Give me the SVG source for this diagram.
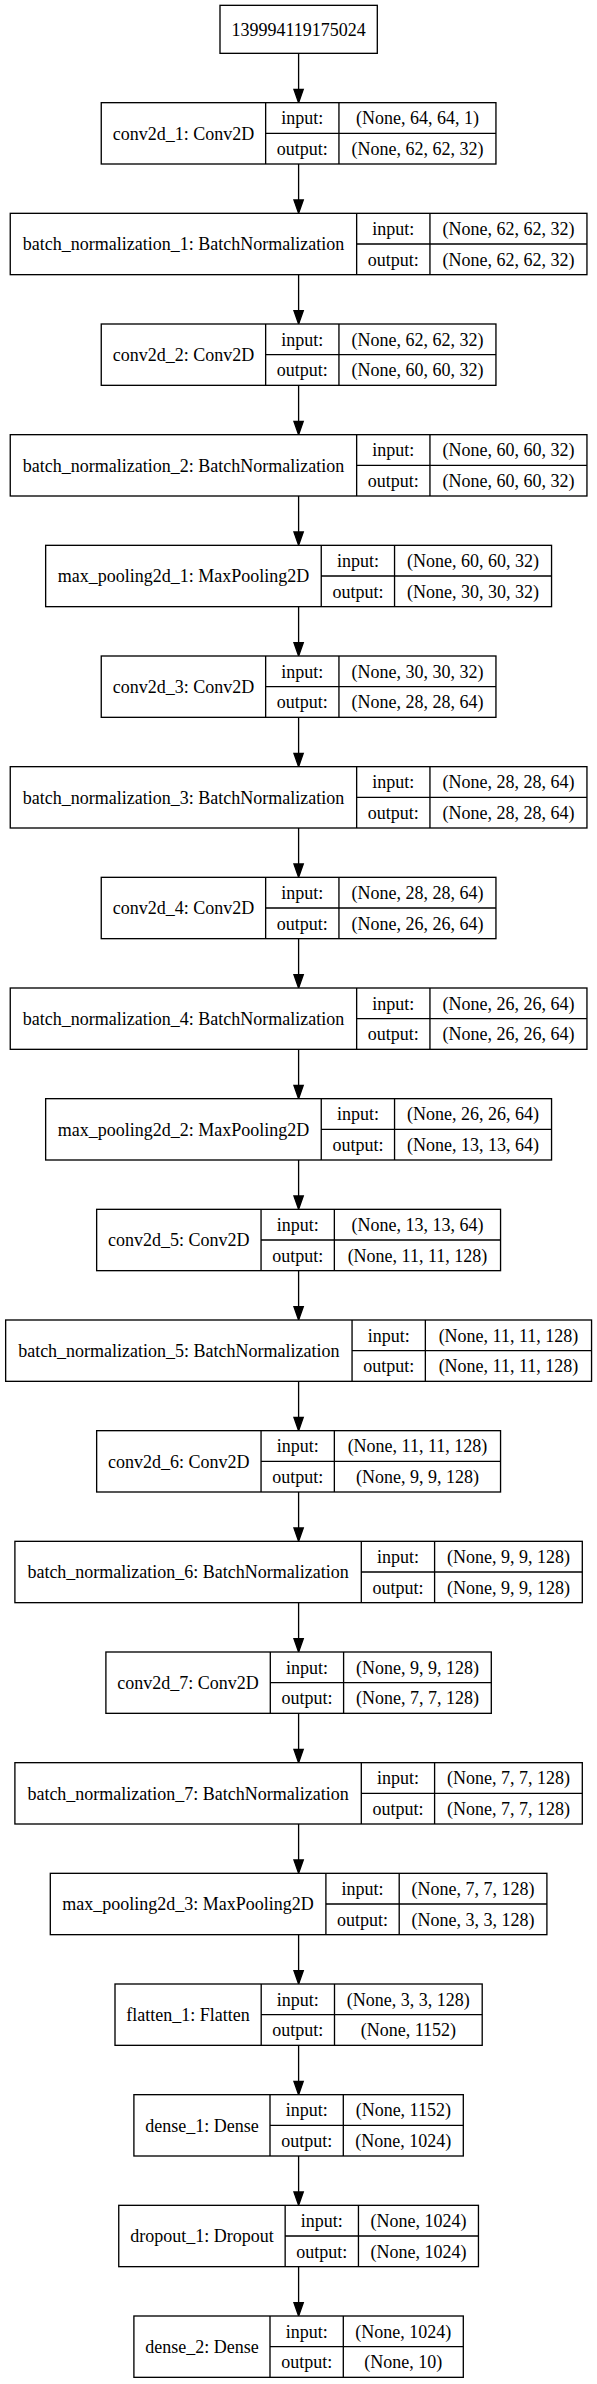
<svg xmlns="http://www.w3.org/2000/svg" width="597" height="2384" viewBox="0 0 597 2384">
<style>
.bg{fill:#ffffff}
.box{fill:#ffffff;stroke:#000000;stroke-width:1.33}
.sep{stroke:#000000;stroke-width:1.33;fill:none}
.edge{stroke:#000000;stroke-width:1.33;fill:none}
text{font-family:"Liberation Serif","Times New Roman",serif;font-size:18px;fill:#000000;text-anchor:middle}
</style>
<defs>
<marker id="arr" markerUnits="userSpaceOnUse" viewBox="0 0 13.33 9.33" refX="0" refY="4.67" markerWidth="13.33" markerHeight="9.33" orient="auto" style="overflow:visible">
<path d="M0,0 L13.33,4.67 L0,9.33 Z" fill="#000000" stroke="#000000" stroke-width="1.33"/>
</marker>
</defs>
<rect class="bg" x="0" y="0" width="597" height="2384"/>

<g id="connectors">
<line class="edge" x1="298.6" y1="53.33" x2="298.6" y2="89.33" marker-end="url(#arr)"/>
<line class="edge" x1="298.6" y1="164.00" x2="298.6" y2="200.00" marker-end="url(#arr)"/>
<line class="edge" x1="298.6" y1="274.67" x2="298.6" y2="310.67" marker-end="url(#arr)"/>
<line class="edge" x1="298.6" y1="385.33" x2="298.6" y2="421.33" marker-end="url(#arr)"/>
<line class="edge" x1="298.6" y1="496.00" x2="298.6" y2="532.00" marker-end="url(#arr)"/>
<line class="edge" x1="298.6" y1="606.67" x2="298.6" y2="642.67" marker-end="url(#arr)"/>
<line class="edge" x1="298.6" y1="717.33" x2="298.6" y2="753.33" marker-end="url(#arr)"/>
<line class="edge" x1="298.6" y1="828.00" x2="298.6" y2="864.00" marker-end="url(#arr)"/>
<line class="edge" x1="298.6" y1="938.67" x2="298.6" y2="974.67" marker-end="url(#arr)"/>
<line class="edge" x1="298.6" y1="1049.33" x2="298.6" y2="1085.33" marker-end="url(#arr)"/>
<line class="edge" x1="298.6" y1="1160.00" x2="298.6" y2="1196.00" marker-end="url(#arr)"/>
<line class="edge" x1="298.6" y1="1270.67" x2="298.6" y2="1306.67" marker-end="url(#arr)"/>
<line class="edge" x1="298.6" y1="1381.33" x2="298.6" y2="1417.33" marker-end="url(#arr)"/>
<line class="edge" x1="298.6" y1="1492.00" x2="298.6" y2="1528.00" marker-end="url(#arr)"/>
<line class="edge" x1="298.6" y1="1602.67" x2="298.6" y2="1638.67" marker-end="url(#arr)"/>
<line class="edge" x1="298.6" y1="1713.33" x2="298.6" y2="1749.33" marker-end="url(#arr)"/>
<line class="edge" x1="298.6" y1="1824.00" x2="298.6" y2="1860.00" marker-end="url(#arr)"/>
<line class="edge" x1="298.6" y1="1934.67" x2="298.6" y2="1970.67" marker-end="url(#arr)"/>
<line class="edge" x1="298.6" y1="2045.33" x2="298.6" y2="2081.33" marker-end="url(#arr)"/>
<line class="edge" x1="298.6" y1="2156.00" x2="298.6" y2="2192.00" marker-end="url(#arr)"/>
<line class="edge" x1="298.6" y1="2266.67" x2="298.6" y2="2302.67" marker-end="url(#arr)"/>
</g>

<g id="input_139994119175024">
<rect class="box" x="220" y="5.33" width="157.3" height="48"/>
<text x="298.65" y="35.6">139994119175024</text>
</g>

<g id="conv2d_1" transform="translate(0,102.67)">
<rect class="box" x="101.25" y="0" width="394.7" height="61.33"/>
<path class="sep" d="M265.65,0V61.33M338.95,0V61.33M265.65,30.67H495.95"/>
<text x="183.45" y="37">conv2d_1: Conv2D</text>
<text x="302.3" y="21.6">input:</text>
<text x="302.3" y="52.3">output:</text>
<text x="417.45" y="21.6">(None, 64, 64, 1)</text>
<text x="417.45" y="52.3">(None, 62, 62, 32)</text>
</g>

<g id="batch_normalization_1" transform="translate(0,213.33)">
<rect class="box" x="10.25" y="0" width="576.7" height="61.33"/>
<path class="sep" d="M356.65,0V61.33M429.95,0V61.33M356.65,30.67H586.95"/>
<text x="183.45" y="37">batch_normalization_1: BatchNormalization</text>
<text x="393.3" y="21.6">input:</text>
<text x="393.3" y="52.3">output:</text>
<text x="508.45" y="21.6">(None, 62, 62, 32)</text>
<text x="508.45" y="52.3">(None, 62, 62, 32)</text>
</g>

<g id="conv2d_2" transform="translate(0,324)">
<rect class="box" x="101.25" y="0" width="394.7" height="61.33"/>
<path class="sep" d="M265.65,0V61.33M338.95,0V61.33M265.65,30.67H495.95"/>
<text x="183.45" y="37">conv2d_2: Conv2D</text>
<text x="302.3" y="21.6">input:</text>
<text x="302.3" y="52.3">output:</text>
<text x="417.45" y="21.6">(None, 62, 62, 32)</text>
<text x="417.45" y="52.3">(None, 60, 60, 32)</text>
</g>

<g id="batch_normalization_2" transform="translate(0,434.67)">
<rect class="box" x="10.25" y="0" width="576.7" height="61.33"/>
<path class="sep" d="M356.65,0V61.33M429.95,0V61.33M356.65,30.67H586.95"/>
<text x="183.45" y="37">batch_normalization_2: BatchNormalization</text>
<text x="393.3" y="21.6">input:</text>
<text x="393.3" y="52.3">output:</text>
<text x="508.45" y="21.6">(None, 60, 60, 32)</text>
<text x="508.45" y="52.3">(None, 60, 60, 32)</text>
</g>

<g id="max_pooling2d_1" transform="translate(0,545.33)">
<rect class="box" x="45.65" y="0" width="505.9" height="61.33"/>
<path class="sep" d="M321.25,0V61.33M394.55,0V61.33M321.25,30.67H551.55"/>
<text x="183.45" y="37">max_pooling2d_1: MaxPooling2D</text>
<text x="357.9" y="21.6">input:</text>
<text x="357.9" y="52.3">output:</text>
<text x="473.05" y="21.6">(None, 60, 60, 32)</text>
<text x="473.05" y="52.3">(None, 30, 30, 32)</text>
</g>

<g id="conv2d_3" transform="translate(0,656)">
<rect class="box" x="101.25" y="0" width="394.7" height="61.33"/>
<path class="sep" d="M265.65,0V61.33M338.95,0V61.33M265.65,30.67H495.95"/>
<text x="183.45" y="37">conv2d_3: Conv2D</text>
<text x="302.3" y="21.6">input:</text>
<text x="302.3" y="52.3">output:</text>
<text x="417.45" y="21.6">(None, 30, 30, 32)</text>
<text x="417.45" y="52.3">(None, 28, 28, 64)</text>
</g>

<g id="batch_normalization_3" transform="translate(0,766.67)">
<rect class="box" x="10.25" y="0" width="576.7" height="61.33"/>
<path class="sep" d="M356.65,0V61.33M429.95,0V61.33M356.65,30.67H586.95"/>
<text x="183.45" y="37">batch_normalization_3: BatchNormalization</text>
<text x="393.3" y="21.6">input:</text>
<text x="393.3" y="52.3">output:</text>
<text x="508.45" y="21.6">(None, 28, 28, 64)</text>
<text x="508.45" y="52.3">(None, 28, 28, 64)</text>
</g>

<g id="conv2d_4" transform="translate(0,877.33)">
<rect class="box" x="101.25" y="0" width="394.7" height="61.33"/>
<path class="sep" d="M265.65,0V61.33M338.95,0V61.33M265.65,30.67H495.95"/>
<text x="183.45" y="37">conv2d_4: Conv2D</text>
<text x="302.3" y="21.6">input:</text>
<text x="302.3" y="52.3">output:</text>
<text x="417.45" y="21.6">(None, 28, 28, 64)</text>
<text x="417.45" y="52.3">(None, 26, 26, 64)</text>
</g>

<g id="batch_normalization_4" transform="translate(0,988)">
<rect class="box" x="10.25" y="0" width="576.7" height="61.33"/>
<path class="sep" d="M356.65,0V61.33M429.95,0V61.33M356.65,30.67H586.95"/>
<text x="183.45" y="37">batch_normalization_4: BatchNormalization</text>
<text x="393.3" y="21.6">input:</text>
<text x="393.3" y="52.3">output:</text>
<text x="508.45" y="21.6">(None, 26, 26, 64)</text>
<text x="508.45" y="52.3">(None, 26, 26, 64)</text>
</g>

<g id="max_pooling2d_2" transform="translate(0,1098.67)">
<rect class="box" x="45.65" y="0" width="505.9" height="61.33"/>
<path class="sep" d="M321.25,0V61.33M394.55,0V61.33M321.25,30.67H551.55"/>
<text x="183.45" y="37">max_pooling2d_2: MaxPooling2D</text>
<text x="357.9" y="21.6">input:</text>
<text x="357.9" y="52.3">output:</text>
<text x="473.05" y="21.6">(None, 26, 26, 64)</text>
<text x="473.05" y="52.3">(None, 13, 13, 64)</text>
</g>

<g id="conv2d_5" transform="translate(0,1209.33)">
<rect class="box" x="96.65" y="0" width="403.9" height="61.33"/>
<path class="sep" d="M261.05,0V61.33M334.35,0V61.33M261.05,30.67H500.55"/>
<text x="178.85" y="37">conv2d_5: Conv2D</text>
<text x="297.7" y="21.6">input:</text>
<text x="297.7" y="52.3">output:</text>
<text x="417.45" y="21.6">(None, 13, 13, 64)</text>
<text x="417.45" y="52.3">(None, 11, 11, 128)</text>
</g>

<g id="batch_normalization_5" transform="translate(0,1320)">
<rect class="box" x="5.65" y="0" width="585.9" height="61.33"/>
<path class="sep" d="M352.05,0V61.33M425.35,0V61.33M352.05,30.67H591.55"/>
<text x="178.85" y="37">batch_normalization_5: BatchNormalization</text>
<text x="388.7" y="21.6">input:</text>
<text x="388.7" y="52.3">output:</text>
<text x="508.45" y="21.6">(None, 11, 11, 128)</text>
<text x="508.45" y="52.3">(None, 11, 11, 128)</text>
</g>

<g id="conv2d_6" transform="translate(0,1430.67)">
<rect class="box" x="96.65" y="0" width="403.9" height="61.33"/>
<path class="sep" d="M261.05,0V61.33M334.35,0V61.33M261.05,30.67H500.55"/>
<text x="178.85" y="37">conv2d_6: Conv2D</text>
<text x="297.7" y="21.6">input:</text>
<text x="297.7" y="52.3">output:</text>
<text x="417.45" y="21.6">(None, 11, 11, 128)</text>
<text x="417.45" y="52.3">(None, 9, 9, 128)</text>
</g>

<g id="batch_normalization_6" transform="translate(0,1541.33)">
<rect class="box" x="14.9" y="0" width="567.4" height="61.33"/>
<path class="sep" d="M361.3,0V61.33M434.6,0V61.33M361.3,30.67H582.3"/>
<text x="188.1" y="37">batch_normalization_6: BatchNormalization</text>
<text x="397.95" y="21.6">input:</text>
<text x="397.95" y="52.3">output:</text>
<text x="508.45" y="21.6">(None, 9, 9, 128)</text>
<text x="508.45" y="52.3">(None, 9, 9, 128)</text>
</g>

<g id="conv2d_7" transform="translate(0,1652)">
<rect class="box" x="105.9" y="0" width="385.4" height="61.33"/>
<path class="sep" d="M270.3,0V61.33M343.6,0V61.33M270.3,30.67H491.3"/>
<text x="188.1" y="37">conv2d_7: Conv2D</text>
<text x="306.95" y="21.6">input:</text>
<text x="306.95" y="52.3">output:</text>
<text x="417.45" y="21.6">(None, 9, 9, 128)</text>
<text x="417.45" y="52.3">(None, 7, 7, 128)</text>
</g>

<g id="batch_normalization_7" transform="translate(0,1762.67)">
<rect class="box" x="14.9" y="0" width="567.4" height="61.33"/>
<path class="sep" d="M361.3,0V61.33M434.6,0V61.33M361.3,30.67H582.3"/>
<text x="188.1" y="37">batch_normalization_7: BatchNormalization</text>
<text x="397.95" y="21.6">input:</text>
<text x="397.95" y="52.3">output:</text>
<text x="508.45" y="21.6">(None, 7, 7, 128)</text>
<text x="508.45" y="52.3">(None, 7, 7, 128)</text>
</g>

<g id="max_pooling2d_3" transform="translate(0,1873.33)">
<rect class="box" x="50.3" y="0" width="496.6" height="61.33"/>
<path class="sep" d="M325.9,0V61.33M399.2,0V61.33M325.9,30.67H546.9"/>
<text x="188.1" y="37">max_pooling2d_3: MaxPooling2D</text>
<text x="362.55" y="21.6">input:</text>
<text x="362.55" y="52.3">output:</text>
<text x="473.05" y="21.6">(None, 7, 7, 128)</text>
<text x="473.05" y="52.3">(None, 3, 3, 128)</text>
</g>

<g id="flatten_1" transform="translate(0,1984)">
<rect class="box" x="115" y="0" width="367.2" height="61.33"/>
<path class="sep" d="M261.2,0V61.33M334.5,0V61.33M261.2,30.67H482.2"/>
<text x="188.1" y="37">flatten_1: Flatten</text>
<text x="297.85" y="21.6">input:</text>
<text x="297.85" y="52.3">output:</text>
<text x="408.35" y="21.6">(None, 3, 3, 128)</text>
<text x="408.35" y="52.3">(None, 1152)</text>
</g>

<g id="dense_1" transform="translate(0,2094.67)">
<rect class="box" x="133.9" y="0" width="329.4" height="61.33"/>
<path class="sep" d="M270,0V61.33M343.3,0V61.33M270,30.67H463.3"/>
<text x="201.95" y="37">dense_1: Dense</text>
<text x="306.65" y="21.6">input:</text>
<text x="306.65" y="52.3">output:</text>
<text x="403.3" y="21.6">(None, 1152)</text>
<text x="403.3" y="52.3">(None, 1024)</text>
</g>

<g id="dropout_1" transform="translate(0,2205.33)">
<rect class="box" x="118.75" y="0" width="359.7" height="61.33"/>
<path class="sep" d="M285.15,0V61.33M358.45,0V61.33M285.15,30.67H478.45"/>
<text x="201.95" y="37">dropout_1: Dropout</text>
<text x="321.8" y="21.6">input:</text>
<text x="321.8" y="52.3">output:</text>
<text x="418.45" y="21.6">(None, 1024)</text>
<text x="418.45" y="52.3">(None, 1024)</text>
</g>

<g id="dense_2" transform="translate(0,2316)">
<rect class="box" x="133.9" y="0" width="329.4" height="61.33"/>
<path class="sep" d="M270,0V61.33M343.3,0V61.33M270,30.67H463.3"/>
<text x="201.95" y="37">dense_2: Dense</text>
<text x="306.65" y="21.6">input:</text>
<text x="306.65" y="52.3">output:</text>
<text x="403.3" y="21.6">(None, 1024)</text>
<text x="403.3" y="52.3">(None, 10)</text>
</g>
</svg>
